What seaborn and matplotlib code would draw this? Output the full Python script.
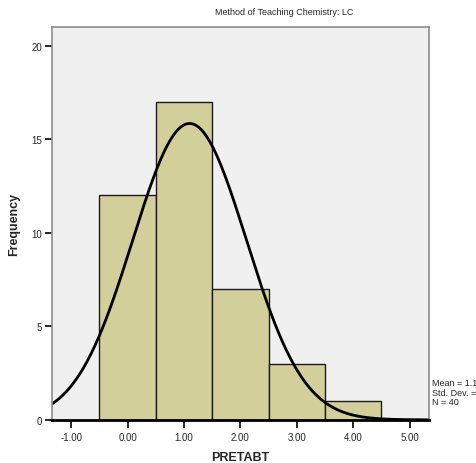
import numpy as np
import pandas as pd
import seaborn as sns
import matplotlib.pyplot as plt

# PRETABT scores (bin centres) and their frequencies
scores = [0, 1, 2, 3, 4]
counts = [12, 17, 7, 3, 1]
bin_edges = [-0.5, 0.5, 1.5, 2.5, 3.5, 4.5]
x_ticks = [-1, 0, 1, 2, 3, 4, 5]
y_ticks = [0, 5, 10, 15, 20]

df = pd.DataFrame({"PRETABT": scores, "count": counts})

n = sum(counts)
mean = np.sum(df["PRETABT"] * df["count"]) / n
sd = np.sqrt(np.sum(df["count"] * (df["PRETABT"] - mean) ** 2) / (n - 1))

sns.set_style("white")
plt.rcParams['font.family'] = ['Liberation Sans', 'DejaVu Sans']

fig = plt.figure(figsize=(4.76, 4.64), dpi=100)
ax = fig.add_axes([0.109, 0.093, 0.792, 0.847])
ax.set_facecolor('#f0f0f0')

sns.histplot(data=df, x="PRETABT", weights="count", bins=bin_edges,
             color='#d3cf9b', alpha=1, edgecolor='#1a1a1a', linewidth=1.0, ax=ax)

# fitted normal curve
xs = np.linspace(-1.35, 5.35, 400)
ys = n * np.exp(-0.5 * ((xs - mean) / sd) ** 2) / (sd * np.sqrt(2 * np.pi))
ax.plot(xs, ys, color='black', lw=2.0)

ax.set_xlim(-1.34, 5.34)
ax.set_ylim(0, 21)
ax.set_xticks(x_ticks)
ax.set_xticklabels([f"{t:.2f}" for t in x_ticks], fontsize=7)
ax.set_yticks(y_ticks)
ax.set_yticklabels([str(t) for t in y_ticks], fontsize=7)
ax.tick_params(axis='x', bottom=True, direction='out', length=6, width=1.2, color='black', pad=3)
ax.tick_params(axis='y', left=True, direction='out', length=5, width=1.2, color='black', pad=2)
ax.set_xlabel('PRETABT', fontsize=9, fontweight='bold', labelpad=6)
ax.set_ylabel('Frequency', fontsize=9, fontweight='bold', labelpad=8)

for side in ['left', 'right', 'top']:
    ax.spines[side].set_color('#8c8c8c')
    ax.spines[side].set_linewidth(1.2)
ax.spines['bottom'].set_color('black')
ax.spines['bottom'].set_linewidth(2)

fig.text(0.597, 0.972, 'Method of Teaching Chemistry: LC', ha='center', va='center', fontsize=6.5)
fig.text(0.908, 0.153, f"Mean = {mean:.2f}\nStd. Dev. = {sd:.3f}\nN = {n}",
         ha='left', va='center', fontsize=6.5, linespacing=1.05)

fig.savefig('out.png', dpi=100)
